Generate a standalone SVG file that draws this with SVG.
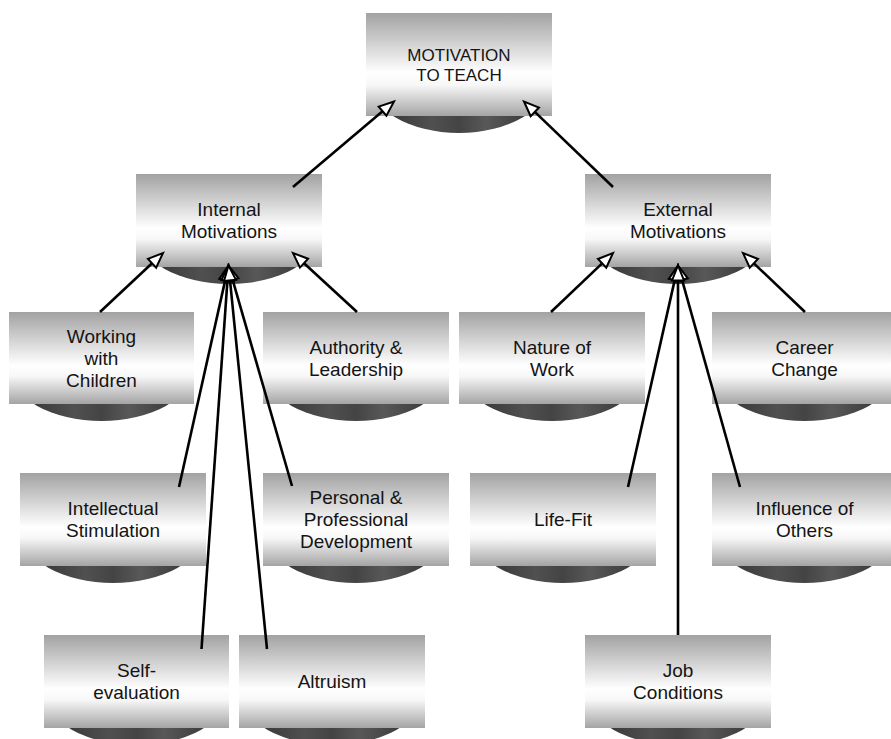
<svg xmlns="http://www.w3.org/2000/svg" width="891" height="739" viewBox="0 0 891 739">
<style>
.box{fill:url(#boxg)}
.sh{fill:url(#shg)}
.t{font-family:"Liberation Sans",Arial,sans-serif;font-size:19px;fill:#141414;text-anchor:middle}
.tt{font-size:17px}
.c{stroke:#000;stroke-width:2.6;fill:none;marker-end:url(#arr)}
</style>
<defs>
<linearGradient id="boxg" x1="0" y1="0" x2="0" y2="1">
<stop offset="0" stop-color="#a2a2a2"/>
<stop offset="0.58" stop-color="#ffffff"/>
<stop offset="0.7" stop-color="#f7f7f7"/>
<stop offset="1" stop-color="#a4a4a4"/>
</linearGradient>
<linearGradient id="shg" x1="0" y1="0" x2="1" y2="0">
<stop offset="0" stop-color="#2e2e2e"/>
<stop offset="0.35" stop-color="#505050"/>
<stop offset="0.5" stop-color="#444"/>
<stop offset="0.65" stop-color="#585858"/>
<stop offset="1" stop-color="#2e2e2e"/>
</linearGradient>
<marker id="arr" markerWidth="17" markerHeight="14" refX="0" refY="6" orient="auto" markerUnits="userSpaceOnUse" overflow="visible">
<path d="M0,0 L15,6 L0,12 Z" fill="#fff" stroke="#000" stroke-width="2"/>
</marker>
</defs>
<rect width="891" height="739" fill="#fff"/>
<g id="nodes">
<g id="n-top"><ellipse class="sh" cx="459" cy="78.4" rx="91" ry="54.6"/><rect class="box" x="366" y="13" width="186" height="103"/><text class="t tt" x="459" y="60.5">MOTIVATION</text><text class="t tt" x="459" y="80.5">TO TEACH</text></g>
<g id="n-internal"><ellipse class="sh" cx="229" cy="232.4" rx="91" ry="51.6"/><rect class="box" x="136" y="174" width="186" height="93"/><text class="t" x="229" y="216.3">Internal</text><text class="t" x="229" y="238.3">Motivations</text></g>
<g id="n-external"><ellipse class="sh" cx="678" cy="232.4" rx="91" ry="51.6"/><rect class="box" x="585" y="174" width="186" height="93"/><text class="t" x="678" y="216.3">External</text><text class="t" x="678" y="238.3">Motivations</text></g>
<g id="n-working"><ellipse class="sh" cx="101.5" cy="369.4" rx="91" ry="51.6"/><rect class="box" x="9" y="312" width="185" height="92"/><text class="t" x="101.5" y="342.8">Working</text><text class="t" x="101.5" y="364.8">with</text><text class="t" x="101.5" y="386.8">Children</text></g>
<g id="n-authority"><ellipse class="sh" cx="356" cy="369.4" rx="91" ry="51.6"/><rect class="box" x="263" y="312" width="186" height="92"/><text class="t" x="356" y="353.8">Authority &amp;</text><text class="t" x="356" y="375.8">Leadership</text></g>
<g id="n-nature"><ellipse class="sh" cx="552" cy="369.4" rx="91" ry="51.6"/><rect class="box" x="459" y="312" width="186" height="92"/><text class="t" x="552" y="353.8">Nature of</text><text class="t" x="552" y="375.8">Work</text></g>
<g id="n-career"><ellipse class="sh" cx="804.5" cy="369.4" rx="91" ry="51.6"/><rect class="box" x="712" y="312" width="185" height="92"/><text class="t" x="804.5" y="353.8">Career</text><text class="t" x="804.5" y="375.8">Change</text></g>
<g id="n-intellectual"><ellipse class="sh" cx="113" cy="531.4" rx="91" ry="51.6"/><rect class="box" x="20" y="473" width="186" height="93"/><text class="t" x="113" y="515.3">Intellectual</text><text class="t" x="113" y="537.3">Stimulation</text></g>
<g id="n-personal"><ellipse class="sh" cx="356" cy="531.4" rx="91" ry="51.6"/><rect class="box" x="263" y="473" width="186" height="93"/><text class="t" x="356" y="504.3">Personal &amp;</text><text class="t" x="356" y="526.3">Professional</text><text class="t" x="356" y="548.3">Development</text></g>
<g id="n-lifefit"><ellipse class="sh" cx="563" cy="531.4" rx="91" ry="51.6"/><rect class="box" x="470" y="473" width="186" height="93"/><text class="t" x="563" y="526.3">Life-Fit</text></g>
<g id="n-influence"><ellipse class="sh" cx="804.5" cy="531.4" rx="91" ry="51.6"/><rect class="box" x="712" y="473" width="185" height="93"/><text class="t" x="804.5" y="515.3">Influence of</text><text class="t" x="804.5" y="537.3">Others</text></g>
<g id="n-self"><ellipse class="sh" cx="136.5" cy="693.4" rx="91" ry="51.6"/><rect class="box" x="44" y="635" width="185" height="93"/><text class="t" x="136.5" y="677.3">Self-</text><text class="t" x="136.5" y="699.3">evaluation</text></g>
<g id="n-altruism"><ellipse class="sh" cx="332" cy="693.4" rx="91" ry="51.6"/><rect class="box" x="239" y="635" width="186" height="93"/><text class="t" x="332" y="688.3">Altruism</text></g>
<g id="n-job"><ellipse class="sh" cx="678" cy="693.4" rx="91" ry="51.6"/><rect class="box" x="585" y="635" width="186" height="93"/><text class="t" x="678" y="677.3">Job</text><text class="t" x="678" y="699.3">Conditions</text></g>
</g>
<g id="connectors">
<line class="c" x1="293" y1="187" x2="382.55" y2="111.19"/>
<line class="c" x1="613" y1="187" x2="534.82" y2="111.89"/>
<line class="c" x1="100" y1="312" x2="152.05" y2="263.26"/>
<line class="c" x1="357" y1="312" x2="304.03" y2="263.17"/>
<line class="c" x1="179" y1="487" x2="225.23" y2="280.14"/>
<line class="c" x1="292" y1="486" x2="232.65" y2="279.91"/>
<line class="c" x1="201.5" y1="649" x2="227.45" y2="280.46"/>
<line class="c" x1="267" y1="649" x2="230" y2="280.43"/>
<line class="c" x1="551" y1="312" x2="602.13" y2="263.34"/>
<line class="c" x1="805" y1="312" x2="753.87" y2="263.34"/>
<line class="c" x1="628" y1="487" x2="674.7" y2="280.13"/>
<line class="c" x1="740" y1="487" x2="682.04" y2="279.95"/>
<line class="c" x1="678" y1="635" x2="678" y2="280.5"/>
</g>
</svg>
